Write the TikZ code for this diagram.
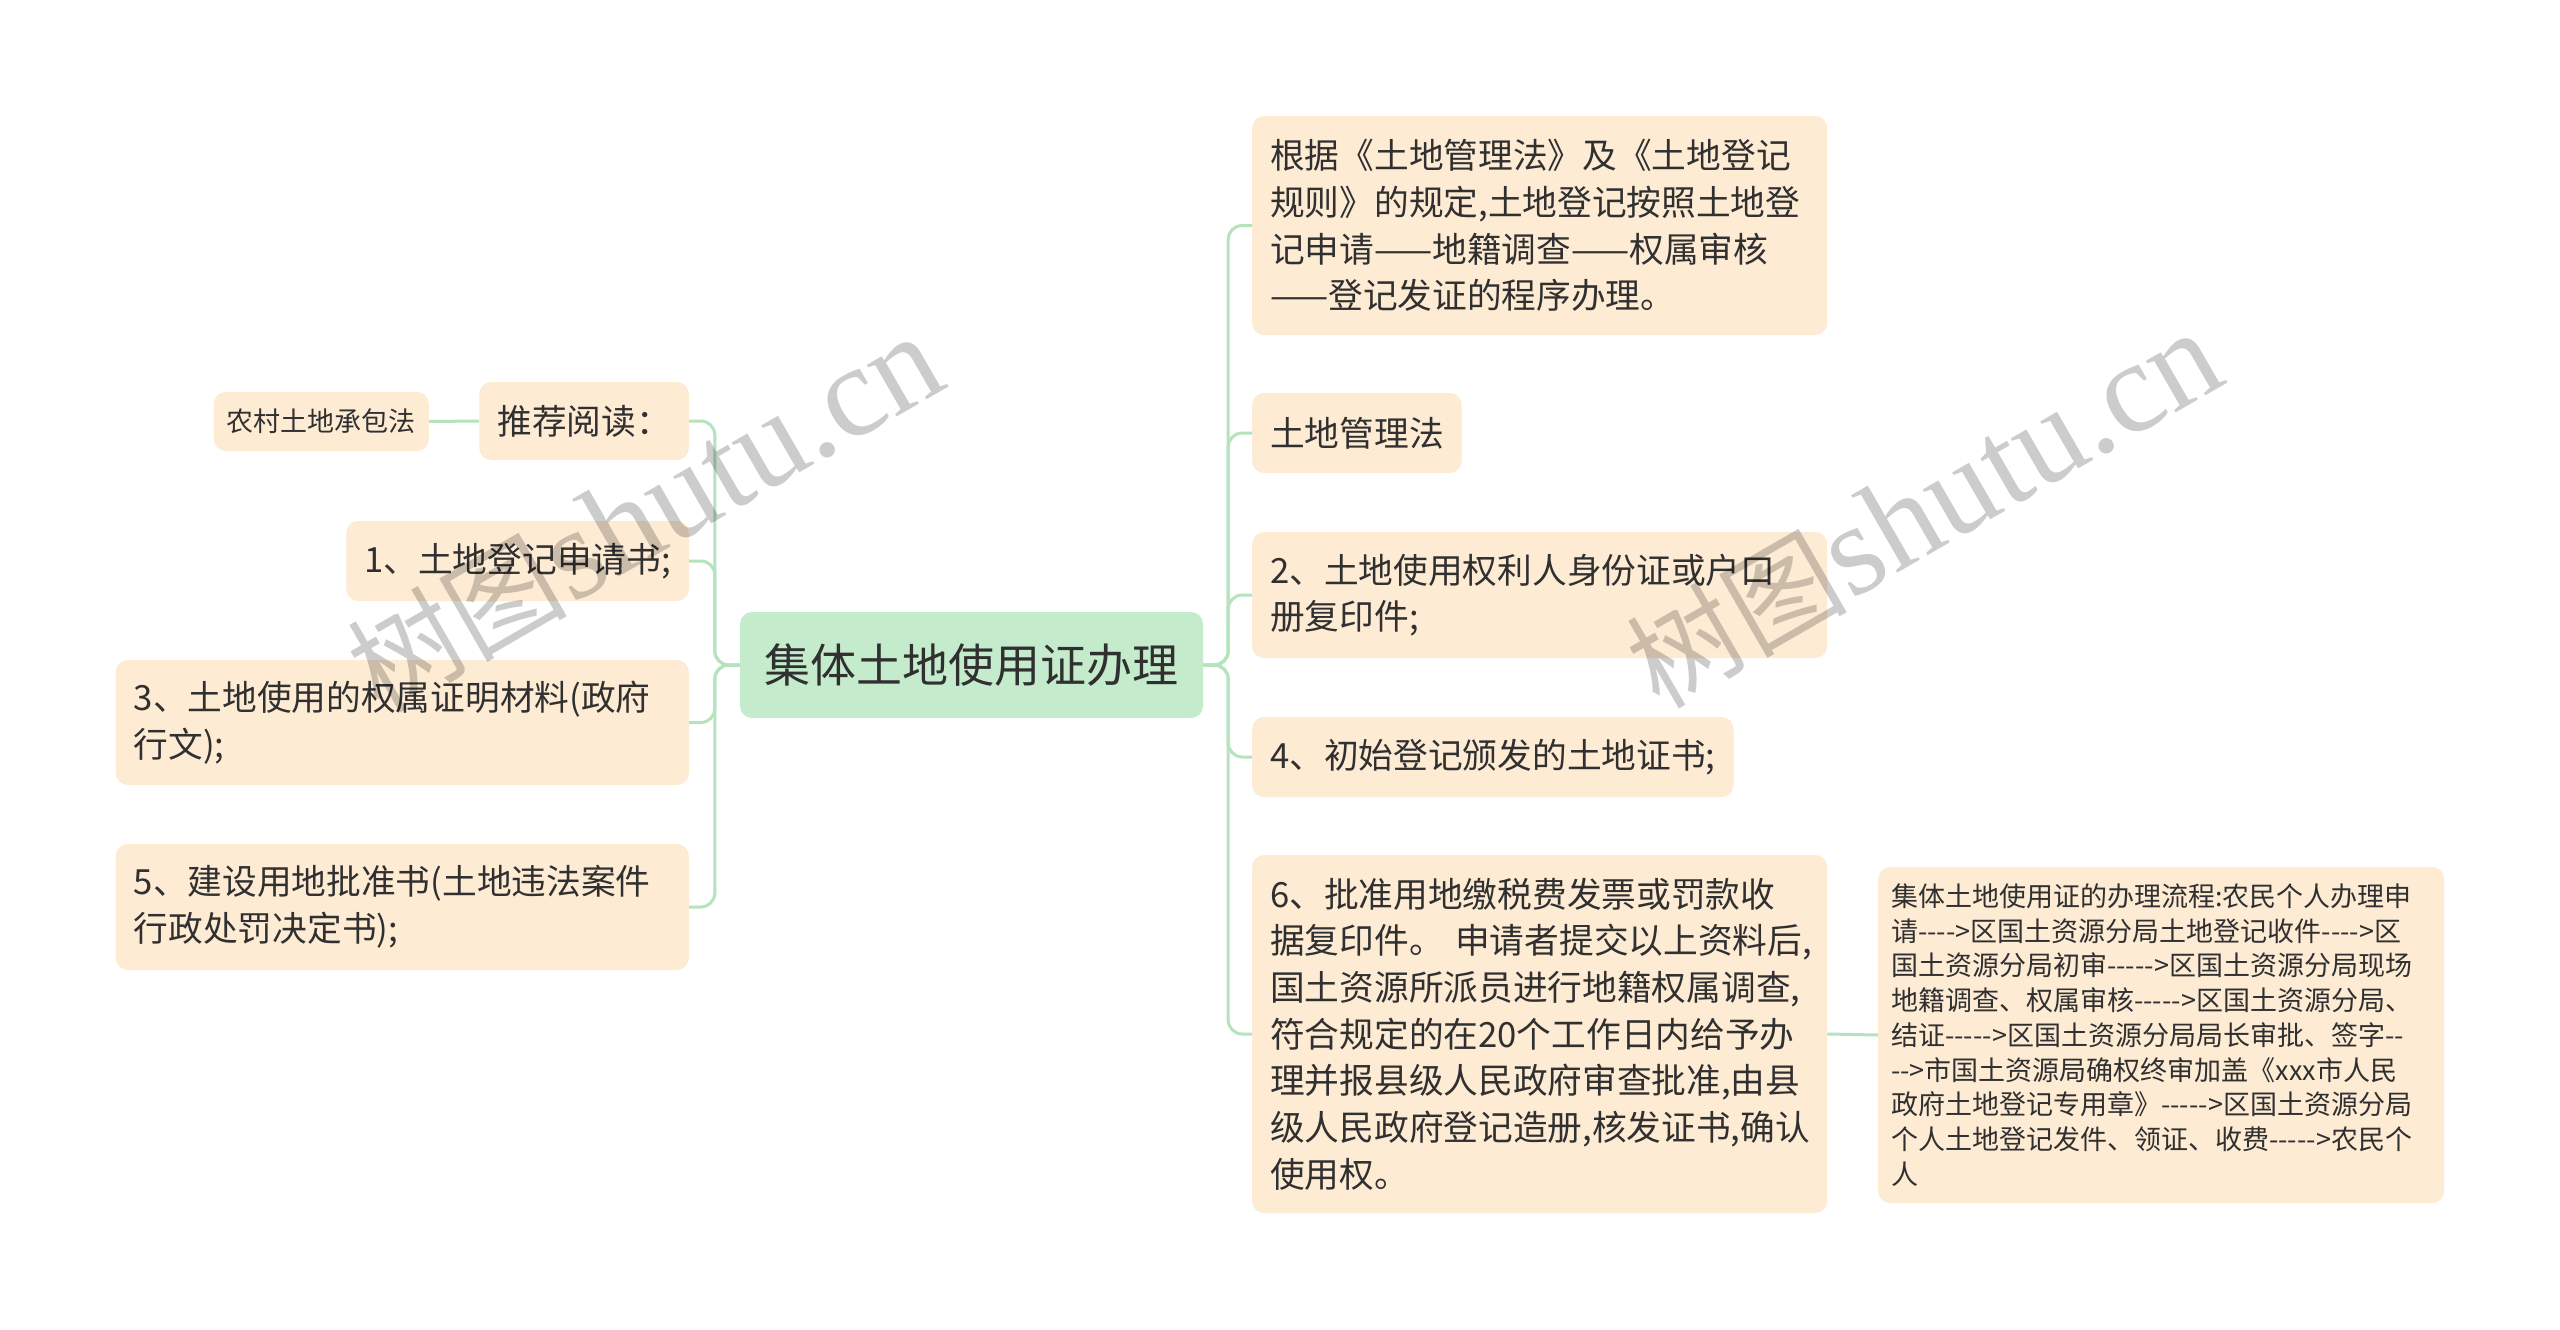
\documentclass[tikz,border=0pt]{standalone}
\usepackage{fontspec}
\usepackage{tikz}
\newfontfamily\cjk{Noto Sans CJK SC}
\newfontfamily\wmserif{Liberation Serif}

\definecolor{leafbg}{HTML}{FDEBD4}
\definecolor{rootbg}{HTML}{C4EBCB}
\definecolor{branch}{HTML}{B5E3BE}
\definecolor{ink}{HTML}{303030}

\begin{document}
\begin{tikzpicture}[
    x = 1pt, y = -1pt,
    topic/.style = {rectangle,
      rounded corners = 12pt,
      fill = leafbg,
      text = ink,
      font = \cjk\fontsize{34.7}{46.7}\selectfont,
      inner xsep = 18pt, inner ysep = 0pt,
      align = left},
    small/.style = {topic,
      font = \cjk\fontsize{27}{34.7}\selectfont,
      inner xsep = 13pt},
    root/.style = {topic,
      fill = rootbg,
      font = \cjk\fontsize{46}{50}\selectfont,
      minimum width = 463pt, minimum height = 106pt},
    link/.style = {draw = branch, line width = 3pt, rounded corners = 14pt},
    watermark/.style = {rotate = 30, text = black, text opacity = 0.2, inner sep = 0pt}
    ]
    \fill [white] (0, 0) rectangle (2560, 1330);
    \useasboundingbox (0, 0) rectangle (2560, 1330);

    \node at (971.5, 665) [root, name = root] {集体土地使用证办理};

    \node at (1252, 225.5) [topic, anchor = west, text width = 539pt, minimum height = 219pt, name = rules]
      {根据《土地管理法》及《土地登记\\规则》的规定,土地登记按照土地登\\记申请——地籍调查——权属审核\\——登记发证的程序办理。};
    \node at (1252, 433) [topic, anchor = west, minimum height = 80pt, name = act] {土地管理法};
    \node at (1252, 595) [topic, anchor = west, text width = 539pt, minimum height = 126pt, name = idcard]
      {2、土地使用权利人身份证或户口\\册复印件;};
    \node at (1252, 757) [topic, anchor = west, minimum height = 80pt, name = cert] {4、初始登记颁发的土地证书;};
    \node at (1252, 1034) [topic, anchor = west, text width = 539pt, minimum height = 358pt, name = receipt]
      {6、批准用地缴税费发票或罚款收\\据复印件。~申请者提交以上资料后,\\国土资源所派员进行地籍权属调查,\\符合规定的在20个工作日内给予办\\理并报县级人民政府审查批准,由县\\级人民政府登记造册,核发证书,确认\\使用权。};
    \node at (1878, 1035) [small, anchor = west, text width = 540pt, minimum height = 336pt, name = flow]
      {集体土地使用证的办理流程:农民个人办理申\\请---->区国土资源分局土地登记收件---->区\\国土资源分局初审----->区国土资源分局现场\\地籍调查、权属审核----->区国土资源分局、\\结证----->区国土资源分局局长审批、签字--\\-->市国土资源局确权终审加盖《xxx市人民\\政府土地登记专用章》----->区国土资源分局\\个人土地登记发件、领证、收费----->农民个\\人};

    \node at (689, 421) [topic, anchor = east, minimum height = 78pt, name = reading] {推荐阅读：};
    \node at (429, 421.5) [small, anchor = east, minimum height = 59pt, name = contract] {农村土地承包法};
    \node at (689, 561) [topic, anchor = east, minimum height = 80pt, name = form] {1、土地登记申请书;};
    \node at (689, 722.5) [topic, anchor = east, text width = 537pt, minimum height = 125pt, name = proof]
      {3、土地使用的权属证明材料(政府\\行文);};
    \node at (689, 907) [topic, anchor = east, text width = 537pt, minimum height = 126pt, name = permit]
      {5、建设用地批准书(土地违法案件\\行政处罚决定书);};

    \draw [link] (root.east) -- ++(25, 0) |- (rules.west);
    \draw [link] (root.east) -- ++(25, 0) |- (act.west);
    \draw [link] (root.east) -- ++(25, 0) |- (idcard.west);
    \draw [link] (root.east) -- ++(25, 0) |- (cert.west);
    \draw [link] (root.east) -- ++(25, 0) |- (receipt.west);
    \draw [link] (receipt.east) -- (flow.west);

    \draw [link] (root.west) -- ++(-25, 0) |- (reading.east);
    \draw [link] (root.west) -- ++(-25, 0) |- (form.east);
    \draw [link] (root.west) -- ++(-25, 0) |- (proof.east);
    \draw [link] (root.west) -- ++(-25, 0) |- (permit.east);
    \draw [link] (reading.west) -- (contract.east);

    \node at (645, 514) [watermark, name = wmleft]
      {{\cjk\fontsize{110}{110}\selectfont 树图}\,{\wmserif\fontsize{130}{130}\selectfont shutu.cn}};
    \node at (1924, 510) [watermark, name = wmright]
      {{\cjk\fontsize{110}{110}\selectfont 树图}\,{\wmserif\fontsize{130}{130}\selectfont shutu.cn}};

  \end{tikzpicture}
\end{document}
